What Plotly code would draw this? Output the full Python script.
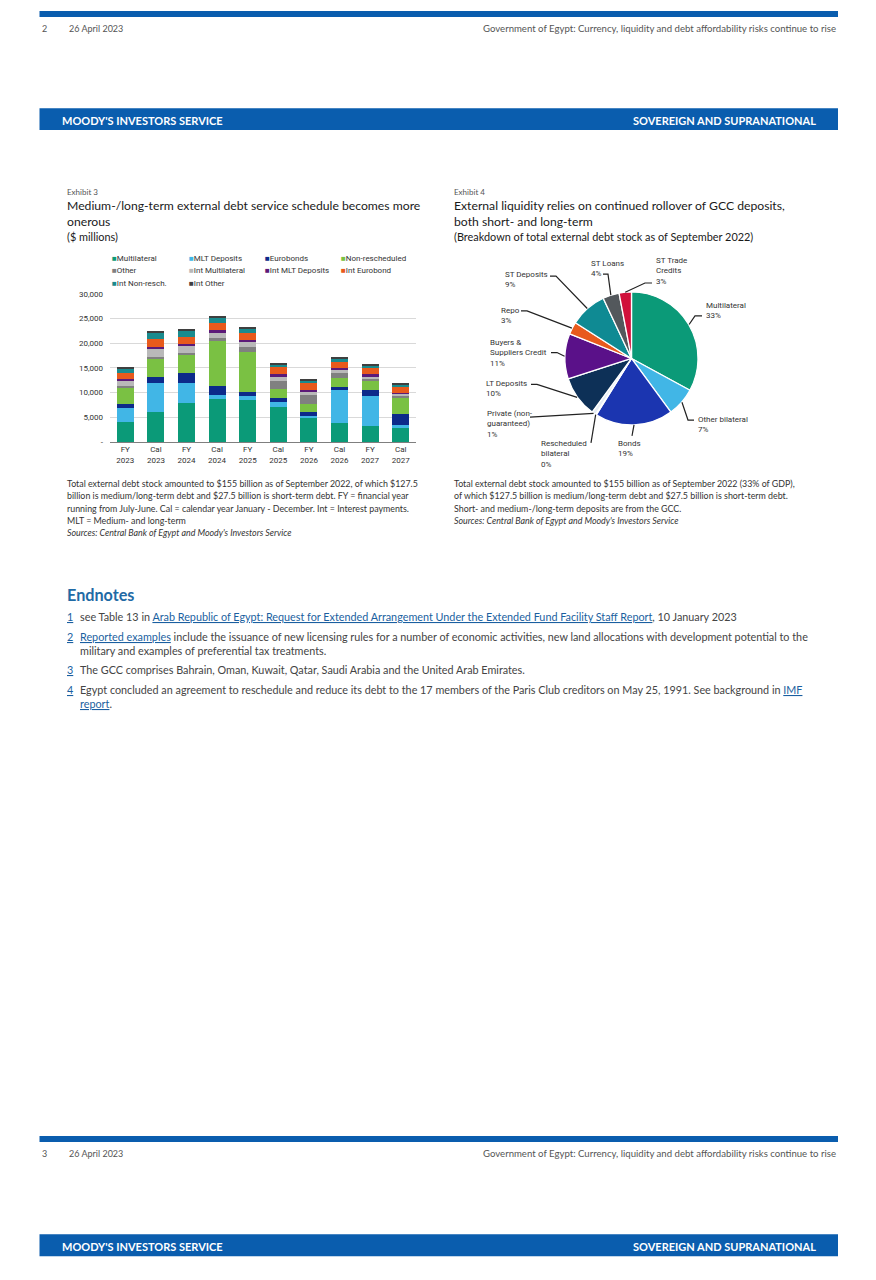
import math
import plotly.graph_objects as go

W, H = 876, 1280

# ---------------- Data: Exhibit 3 (stacked bars, $ millions) ----------------
categories = ["FY<br>2023", "Cal<br>2023", "FY<br>2024", "Cal<br>2024", "FY<br>2025",
              "Cal<br>2025", "FY<br>2026", "Cal<br>2026", "FY<br>2027", "Cal<br>2027"]

multilateral     = [4100, 6100, 7800, 8600, 8400, 7100, 5000, 3900, 3200, 2800]
mlt_deposits     = [2700, 5800, 4100, 1000,  900, 1000,  300, 6600, 6200,  700]
eurobonds        = [ 800, 1200, 2000, 1700,  800,  700,  700,  700, 1100, 2200]
non_rescheduled  = [3500, 3700, 3700, 9300, 8200, 1900, 1700, 1800, 1800, 3200]
other            = [ 300,  500,  500,  400,  900, 1700, 1800, 1000,  600,  500]
int_multilateral = [1100, 1500, 1400, 1200, 1000,  900,  600,  500,  400,  400]
int_mlt_deposits = [ 300,  500,  300,  400,  500,  400,  500,  500,  400,  200]
int_eurobond     = [1200, 1500, 1500, 1600, 1400, 1400, 1300, 1300, 1300, 1300]
int_non_resch    = [ 900, 1300, 1200, 1100, 1000,  700,  600,  600,  500,  400]
int_other        = [ 200,  300,  300,  300,  200,  200,  200,  200,  200,  200]

bar_series_names = ["Multilateral", "MLT Deposits", "Eurobonds", "Non-rescheduled",
                    "Other", "Int Multilateral", "Int MLT Deposits", "Int Eurobond",
                    "Int Non-resch.", "Int Other"]
bar_series_values = [multilateral, mlt_deposits, eurobonds, non_rescheduled, other,
                     int_multilateral, int_mlt_deposits, int_eurobond, int_non_resch, int_other]
bar_colors = ["#0b9a78", "#41b6e6", "#0c2a8a", "#7ac143", "#808080",
              "#b9b9b9", "#5c1a78", "#e85a1c", "#198b8e", "#3f3f3f"]

y_tick_vals = [0, 5000, 10000, 15000, 20000, 25000, 30000]
y_tick_text = ["-", "5,000", "10,000", "15,000", "20,000", "25,000", "30,000"]

# ---------------- Data: Exhibit 4 (pie, % of external debt) ----------------
pie_labels = ["Multilateral", "Other bilateral", "Bonds", "Rescheduled bilateral",
              "Private (non-guaranteed)", "LT Deposits", "Buyers & Suppliers Credit",
              "Repo", "ST Deposits", "ST Loans", "ST Trade Credits"]
pie_display = ["Multilateral", "Other bilateral", "Bonds", "Rescheduled<br>bilateral",
               "Private (non-<br>guaranteed)", "LT Deposits", "Buyers &<br>Suppliers Credit",
               "Repo", "ST Deposits", "ST Loans", "ST Trade<br>Credits"]
pie_values = [33, 7, 19, 0.2, 1, 10, 11, 3, 9, 4, 3]
pie_colors = ["#0b9a78", "#41b6e6", "#1b35b0", "#0c2a8a", "#e6edf4", "#0d3057",
              "#5a1189", "#e85a1c", "#0f8a93", "#53585c", "#d0103a"]


def px(x):
    return x / W


def py(y):
    return 1 - y / H


fig = go.Figure()

# ---------------- Bars ----------------
for name, vals, col in zip(bar_series_names, bar_series_values, bar_colors):
    fig.add_trace(go.Bar(x=categories, y=vals, name=name, marker=dict(color=col, line=dict(width=0)),
                         showlegend=False, xaxis="x", yaxis="y"))

# ---------------- Pie ----------------
cx, cy, r = 631.5, 357.0, 67.0
fig.add_trace(go.Pie(
    values=pie_values, labels=pie_labels, sort=False, direction="clockwise", rotation=0,
    textinfo="none", showlegend=False,
    marker=dict(colors=pie_colors, line=dict(color="white", width=1.3)),
    domain=dict(x=[px(cx - r), px(cx + r)], y=[py(cy + r), py(cy - r)]),
))

annotations = []
shapes = []

SANS = "Lato, 'Noto Sans', sans-serif"
CHART = "Roboto, Arial, sans-serif"
BLUE = "#0a5dae"


def text(x, y, s, size, color="#333333", family=SANS, xanchor="left", yanchor="middle"):
    annotations.append(dict(x=px(x), y=py(y), xref="paper", yref="paper", text=s,
                            showarrow=False, xanchor=xanchor, yanchor=yanchor, align="left",
                            font=dict(size=size, color=color, family=family)))


def rect(x0, y0, x1, y1, color):
    shapes.append(dict(type="rect", xref="paper", yref="paper", x0=px(x0), x1=px(x1),
                       y0=py(y1), y1=py(y0), fillcolor=color, line=dict(width=0), layer="below"))


# ---------------- Page furniture ----------------
for top, band_top, num in [(7, 105, "2"), (1140, 1239, "3")]:
    rect(39.5, top, 838, top + 6, BLUE)
    text(40, top + 18, num, 9, "#555555")
    text(67, top + 18, "26 April 2023", 9, "#555555")
    text(838, top + 18, "Government of Egypt: Currency, liquidity and debt affordability risks continue to rise",
         9.6, "#555555", xanchor="right")
    rect(39.5, band_top, 838, band_top + 22, BLUE)
    text(59.5, band_top + 12, "<b>MOODY'S INVESTORS SERVICE</b>", 11, "white")
    text(818, band_top + 12, "<b>SOVEREIGN AND SUPRANATIONAL</b>", 11, "white", xanchor="right")

# ---------------- Exhibit titles ----------------
text(65, 189, "Exhibit 3", 8, "#555555")
text(65, 203, "Medium-/long-term external debt service schedule becomes more", 12.2, "#1a1a1a")
text(65, 219, "onerous", 12.2, "#1a1a1a")
text(65, 234, "($ millions)", 10.9, "#1a1a1a")

text(452, 189, "Exhibit 4", 8, "#555555")
text(452, 203, "External liquidity relies on continued rollover of GCC deposits,", 12.2, "#1a1a1a")
text(452, 219, "both short- and long-term", 12.2, "#1a1a1a")
text(452, 234, "(Breakdown of total external debt stock as of September 2022)", 10.9, "#1a1a1a")

# ---------------- Bar legend (manual grid) ----------------
leg_cols = [110, 187, 263, 339]
leg_rows = [256, 268, 281]
for i, (name, col) in enumerate(zip(bar_series_names, bar_colors)):
    lx = leg_cols[i % 4]
    ly = leg_rows[i // 4]
    text(lx, ly, f"<span style='color:{col}'>■</span>{name}", 8, "#333333", family=CHART)

# ---------------- Pie labels and leader lines ----------------
total = sum(pie_values)
tips = []
cum = 0.0
for v in pie_values:
    th = 2 * math.pi * (cum + v / 2) / total
    tips.append((cx + r * math.sin(th), cy - r * math.cos(th)))
    cum += v

pie_label_layout = [
    (704, 297, [(702, 314), (695, 314)]),
    (696, 412, [(694, 419), (688, 419)]),
    (616, 436, [(632, 435)]),
    (539, 436, [(591, 442)]),
    (485, 406, [(530, 416)]),
    (484, 376, [(531, 383), (537, 383)]),
    (488, 334, [(551, 351), (557, 351)]),
    (499, 302, [(521, 309), (527, 309)]),
    (503, 266, [(550, 274), (556, 274)]),
    (589, 255, [(603, 272), (608, 272)]),
    (654, 252, [(652, 281), (645, 281)]),
]
for disp, v, (tx, ty, pts), tip in zip(pie_display, pie_values, pie_label_layout, tips):
    text(tx, ty, f"{disp}<br>{round(v)}%", 8, "#333333", family=CHART, yanchor="top")
    allp = pts + [tip]
    path = "M " + " L ".join(f"{px(a):.5f},{py(b):.5f}" for a, b in allp)
    shapes.append(dict(type="path", xref="paper", yref="paper", path=path,
                       line=dict(color="#222222", width=1.2)))

# ---------------- Footnotes ----------------
left_notes = [
    "Total external debt stock amounted to $155 billion as of September 2022, of which $127.5",
    "billion is medium/long-term debt and $27.5 billion is short-term debt. FY = financial year",
    "running from July-June. Cal = calendar year January - December. Int = Interest payments.",
    "MLT = Medium- and long-term",
    "<i>Sources: Central Bank of Egypt and Moody's Investors Service</i>",
]
for i, s in enumerate(left_notes):
    text(65, 483 + i * 12.4, s, 8.85, "#333333")

right_notes = [
    "Total external debt stock amounted to $155 billion as of September 2022 (33% of GDP),",
    "of which $127.5 billion is medium/long-term debt and $27.5 billion is short-term debt.",
    "Short- and medium-/long-term deposits are from the GCC.",
    "<i>Sources: Central Bank of Egypt and Moody's Investors Service</i>",
]
for i, s in enumerate(right_notes):
    text(452, 483 + i * 12.4, s, 8.85, "#333333")

# ---------------- Endnotes ----------------
LINK = "#1a5fa0"
text(65, 595, "<b>Endnotes</b>", 16.2, "#1f6aa5")


def link(s):
    return f"<span style='color:{LINK}'><u>{s}</u></span>"


endnotes = [
    (617, link("1"), "see Table 13 in " + link("Arab Republic of Egypt: Request for Extended Arrangement Under the Extended Fund Facility Staff Report") + ", 10 January 2023"),
    (637, link("2"), link("Reported examples") + " include the issuance of new licensing rules for a number of economic activities, new land allocations with development potential to the"),
    (651, "", "military and examples of preferential tax treatments."),
    (670, link("3"), "The GCC comprises Bahrain, Oman, Kuwait, Qatar, Saudi Arabia and the United Arab Emirates."),
    (690, link("4"), "Egypt concluded an agreement to reschedule and reduce its debt to the 17 members of the Paris Club creditors on May 25, 1991. See background in " + link("IMF")),
    (704, "", link("report") + "."),
]
for y, num, s in endnotes:
    if num:
        text(65, y, num, 10.8, "#444444")
    text(78, y, s, 10.8, "#444444")

fig.update_layout(
    width=W, height=H,
    margin=dict(l=0, r=0, t=0, b=0),
    paper_bgcolor="white", plot_bgcolor="white",
    barmode="stack", bargap=0.44,
    xaxis=dict(domain=[px(110), px(416)], showgrid=False, showline=True, linecolor="#7f7f7f",
               linewidth=1, ticks="", tickfont=dict(size=8, color="#333333", family=CHART),
               fixedrange=True),
    yaxis=dict(domain=[py(441), py(292)], range=[0, 30000], tickvals=y_tick_vals,
               ticktext=y_tick_text, showgrid=True, gridcolor="#d9d9d9", gridwidth=1,
               zeroline=False, showline=False, ticks="",
               tickfont=dict(size=8, color="#333333", family=CHART), ticklabelstandoff=6,
               fixedrange=True),
    annotations=annotations,
    shapes=shapes,
    showlegend=False,
)

fig.write_html("out.html", config={"displayModeBar": False},
               post_script="document.body.style.margin='0';document.body.style.overflow='hidden';")
